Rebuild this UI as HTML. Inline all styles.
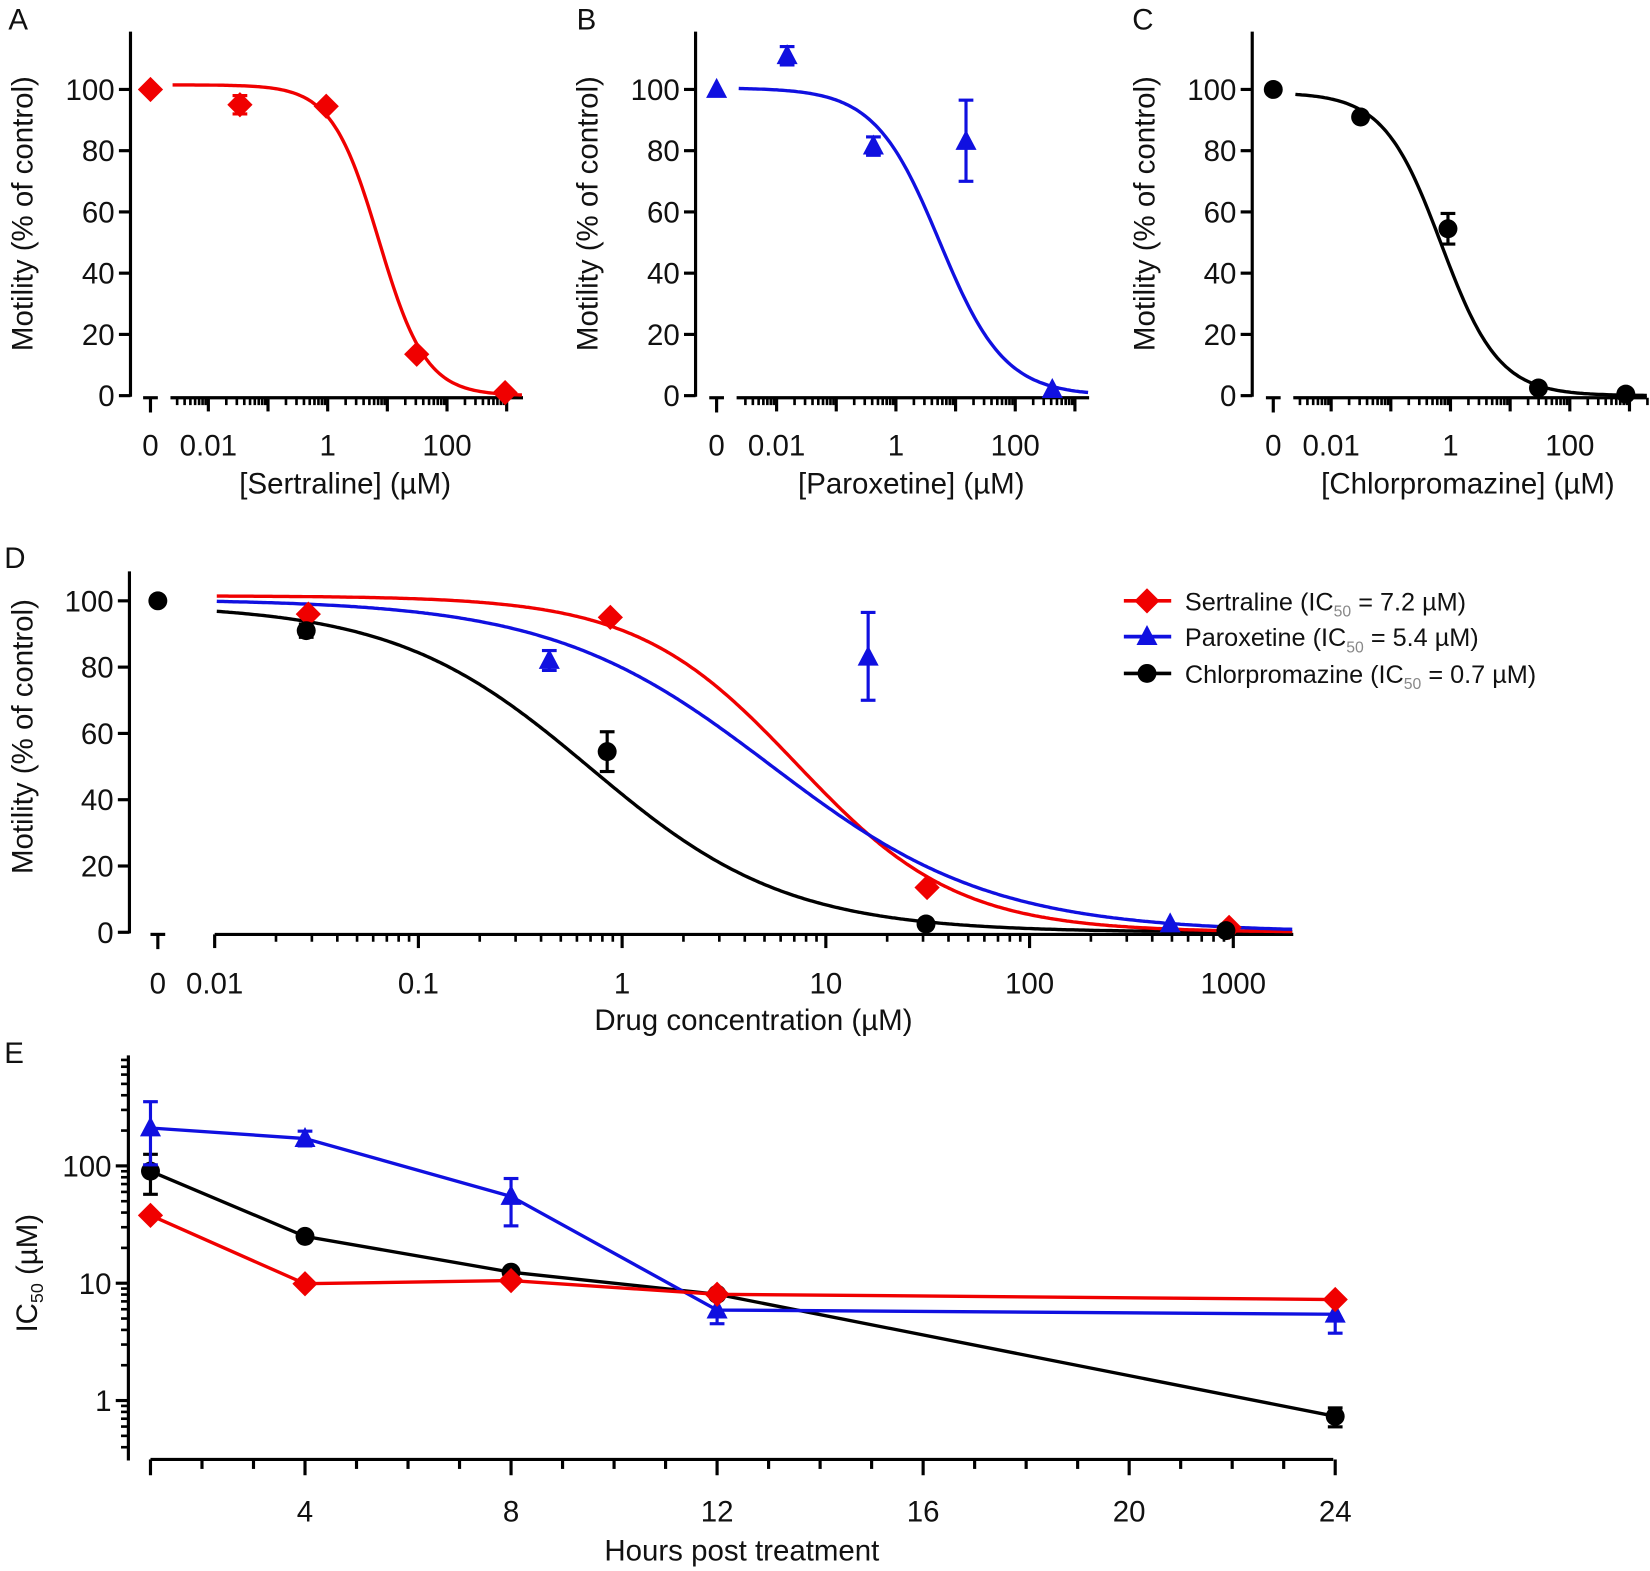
<!DOCTYPE html>
<html><head><meta charset="utf-8">
<style>html,body{margin:0;padding:0;background:#fff}svg{display:block}text{font-family:"Liberation Sans",Arial,sans-serif;fill:#111}</style>
</head><body>
<svg id="s" width="1650" height="1571" viewBox="0 0 1568 1493" preserveAspectRatio="none" xmlns="http://www.w3.org/2000/svg"></svg>
<script>
const S=document.getElementById('s');let H='';
const R='#f00000',B='#1010e0',K='#000';
function L(x1,y1,x2,y2,c,w){H+=`<line x1="${x1}" y1="${y1}" x2="${x2}" y2="${y2}" stroke="${c||K}" stroke-width="${w||3}"/>`;}
function T(x,y,t,sz,anc,extra){H+=`<text x="${x}" y="${y}" font-size="${sz||24}" text-anchor="${anc||'middle'}" ${extra||''}>${t}</text>`;}
function mk(type,x,y,c,s){s=s||1;
 if(type=='d')H+=`<polygon points="${x},${y-12*s} ${x+12*s},${y} ${x},${y+12*s} ${x-12*s},${y}" fill="${c}"/>`;
 else if(type=='t')H+=`<polygon points="${x},${y-11*s} ${x+10*s},${y+8*s} ${x-10*s},${y+8*s}" fill="${c}"/>`;
 else H+=`<circle cx="${x}" cy="${y}" r="${9*s}" fill="${c}"/>`;}
function err(x,y1,y2,c){L(x,y1,x,y2,c,3);L(x-7,y1,x+7,y1,c,3);L(x-7,y2,x+7,y2,c,3);}
function hill(x,p){return p[0]/(1+Math.pow(x/p[1],p[2]));}
const PR=[101.5,7.2,1.1],PB=[100.5,5.4,0.8],PK=[99,0.7,0.9];
function panel(c){
 const y=v=>c.y0-v*c.k;
 L(c.ax,c.top,c.ax,c.y0+1);
 for(let v=0;v<=100;v+=20){L(c.ax-11,y(v),c.ax,y(v));T(c.ax-15,y(v)+10,v,c.fs,'end');}
 const xl=lg=>c.d0+(lg+2)*c.ppd;
 const by=c.y0+2;
 L(c.ls,by,c.le,by);
 L(c.zx-7,by,c.zx+7,by);L(c.zx,by,c.zx,by+14);
 T(c.zx,c.ly,'0',c.fs);
 for(let d=-3;d<=3;d++){for(let m=1;m<10;m++){const px=xl(d+Math.log10(m));if(px<c.ls-1||px>c.le+1)continue;L(px,by,px,by+(m==1?13:7),K,m==1?3:2.5);}}
 c.labs.forEach(l=>T(xl(Math.log10(l[0])),c.ly,l[1],c.fs));
 T(c.tx,c.ty,c.title,c.fs);
 H+=`<text transform="translate(${c.ylx},${c.yly}) rotate(-90)" font-size="${c.fs}" text-anchor="middle">Motility (% of control)</text>`;
 T(c.lx,c.lyy,c.letter,28,'start');
 c.curves.forEach(cv=>{let d='';for(let px=c.cs;px<=c.le;px+=2){const lg=(px-c.d0)/c.ppd-2;const v=hill(Math.pow(10,lg),cv[0]);d+=(d?'L':'M')+px.toFixed(1)+','+y(v).toFixed(1);}H+=`<path d="${d}" fill="none" stroke="${cv[1]}" stroke-width="3.2"/>`;});
 c.pts.forEach(p=>{if(p[5]!==undefined)err(p[1],y(p[4]),y(p[5]),p[3]);mk(p[0],p[1],y(p[2]),p[3],c.ms);});
}
const lab3=[[0.01,'0.01'],[1,'1'],[100,'100']];
panel({ax:124,top:30,y0:376,k:2.91,fs:28,d0:198,ppd:56.7,ls:162,le:497,cs:164,zx:143,ly:433,labs:lab3,tx:328,ty:469,title:'[Sertraline] (µM)',ylx:31,yly:203,lx:8,lyy:28,letter:'A',curves:[[PR,R]],ms:1,
 pts:[['d',143,100,R],['d',228,95,R,92,98],['d',310,94.5,R],['d',396,13.5,R],['d',480,1,R]]});
panel({ax:661,top:30,y0:376,k:2.91,fs:28,d0:738,ppd:56.7,ls:700,le:1035,cs:702,zx:681,ly:433,labs:lab3,tx:866,ty:469,title:'[Paroxetine] (µM)',ylx:568,yly:203,lx:548,lyy:28,letter:'B',curves:[[PB,B]],ms:1,
 pts:[['t',681,100,B],['t',748,111,B,108,114],['t',830,81.5,B,78.5,84.5],['t',918,83,B,70,96.5],['t',1000,2,B]]});
panel({ax:1190,top:30,y0:376,k:2.91,fs:28,d0:1265,ppd:56.7,ls:1229,le:1565,cs:1231,zx:1210,ly:433,labs:lab3,tx:1395,ty:469,title:'[Chlorpromazine] (µM)',ylx:1097,yly:203,lx:1076,lyy:28,letter:'C',curves:[[PK,K]],ms:1,
 pts:[['c',1210,100,K],['c',1293,91,K],['c',1376,54.5,K,49.5,59.5],['c',1462,2.5,K],['c',1545,0.5,K]]});
panel({ax:123,top:543,y0:886,k:3.15,fs:28,d0:204,ppd:193.6,ls:204,le:1229,cs:206,zx:150,ly:944,labs:[[0.01,'0.01'],[0.1,'0.1'],[1,'1'],[10,'10'],[100,'100'],[1000,'1000']],tx:716,ty:979,title:'Drug concentration (µM)',ylx:31,yly:700,lx:4,lyy:540,letter:'D',curves:[[PK,K],[PR,R],[PB,B]],ms:1,
 pts:[['c',150,100,K],['d',293,96,R],['c',291,91,K,89,93],['c',577,54.5,K,48.5,60.5],['t',522,82,B,79,85],['d',580,95,R],['t',825,83,B,70,96.5],['d',881,13.5,R],['c',880,2.5,K],['t',1112,2.5,B],['d',1168,1.5,R],['c',1165,0.5,K]]});
[[571,R,'d','Sertraline','7.2'],[605,B,'t','Paroxetine','5.4'],[640,K,'c','Chlorpromazine','0.7']].forEach(l=>{L(1068,l[0],1113,l[0],l[1],3.5);mk(l[2],1090,l[0],l[1],1);
 H+=`<text x="1126" y="${l[0]+9}" font-size="24" text-anchor="start">${l[3]} (IC<tspan font-size="15" dy="6" style="fill:#888">50</tspan><tspan dy="-6"> = ${l[4]} µM)</tspan></text>`;});
T(4,1010,'E',28,'start');
L(122,1003,122,1388);
const ey=lg=>1331-lg*111.5;
for(let d=-1;d<=2;d++)for(let m=1;m<10;m++){const py=ey(d+Math.log10(m));if(py<1003||py>1388)continue;L(m==1?110:115,py,122,py,K,m==1?3:2.5);}
T(106,1341,'1',28,'end');T(106,1230,'10',28,'end');T(106,1118,'100',28,'end');
H+=`<text transform="translate(35,1210) rotate(-90)" font-size="28" text-anchor="middle">IC<tspan font-size="17" dy="6">50</tspan><tspan dy="-6"> (µM)</tspan></text>`;
const ex=h=>143+(h-1)*48.95;
L(143,1387,1267,1387);
for(let h=1;h<=24;h++){const maj=(h%4==0);L(ex(h),1387,ex(h),1387+(maj||h==1?15:9));if(maj)T(ex(h),1446,h,28);}
T(705,1483,'Hours post treatment',28);
const hrs=[1,4,8,12,24];
function eline(ys,c,t,errs){let d='';hrs.forEach((h,i)=>d+=(i?'L':'M')+ex(h)+','+ys[i]);H+=`<path d="${d}" fill="none" stroke="${c}" stroke-width="3.2"/>`;
 errs.forEach((e,i)=>{if(e)err(ex(hrs[i]),e[0],e[1],c);});hrs.forEach((h,i)=>mk(t,ex(h),ys[i],c,1));}
eline([1113,1175,1209,1230,1346],K,'c',[[1097,1135],null,null,null,[1338,1356]]);
eline([1072,1082,1137,1245,1249],B,'t',[[1047,1107],[1075,1089],[1120,1165],[1233,1258],[1235,1267]]);
eline([1155,1220,1217,1230,1235],R,'d',[null,null,null,null,null]);
S.innerHTML=H;
</script>
</body></html>
